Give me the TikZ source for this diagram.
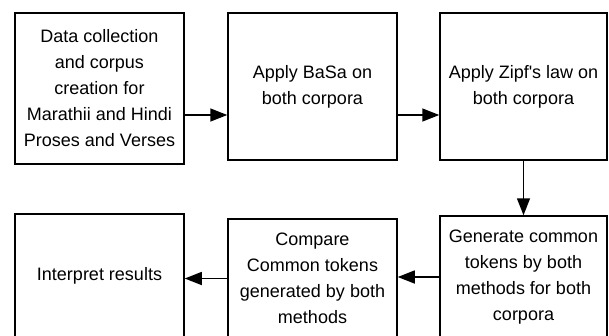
\documentclass[tikz,border=0pt]{standalone}
\usepackage{fontspec}
\setmainfont{Liberation Sans}
\usepackage{tikz}
\usetikzlibrary{arrows.meta}
\newcommand{\boxcolor}{black}
\newcommand{\thickness}{1.5pt}
\newcommand{\boxw}{169pt}
\tikzset{
  stepbox/.style={draw=\boxcolor, line width=\thickness, rectangle, inner sep=0pt,
    minimum width=\boxw, align=center, font=\fontsize{18}{26}\selectfont},
  flow/.style={line width=\thickness, -{Triangle[length=17pt,width=13pt]}}
}

\begin{document}
\begin{tikzpicture}[x=1pt,y=-1pt]
\useasboundingbox (0,0) rectangle (609,335);
%top row
\node[stepbox, minimum height=151pt] (1) at (99.5, 88.5) {Data collection\\and corpus\\creation for\\Marathii and Hindi\\Proses and Verses};
\node[stepbox, minimum height=147pt] (2) at (312.5, 86.5) {Apply BaSa on\\both corpora};
\node[stepbox, minimum height=147pt, minimum width=167pt] (3) at (523.5, 86.5) {Apply Zipf\textquotesingle s law on\\both corpora};
%bottom row
\node[stepbox, minimum height=124pt] (4) at (99.5, 276) {Interpret results};
\node[stepbox, minimum height=119pt] (5) at (312.5, 278.5) {Compare\\Common tokens\\generated by both\\methods};
\node[stepbox, minimum height=122pt, minimum width=167pt] (6) at (523.5, 277) {Generate common\\tokens by both\\methods for both\\corpora};
%arrows
\draw[flow] ([yshift=-26.5pt]1.east) -- ([yshift=-28.5pt]2.west);
\draw[flow] ([yshift=-28.5pt]2.east) -- ([yshift=-28.5pt]3.west);
\draw[flow] (3.south) -- (6.north);
\draw[flow] (6.west) -- (6.west -| 5.east);
\draw[flow] (5.west) -- (5.west -| 4.east);
\end{tikzpicture}
\end{document}
